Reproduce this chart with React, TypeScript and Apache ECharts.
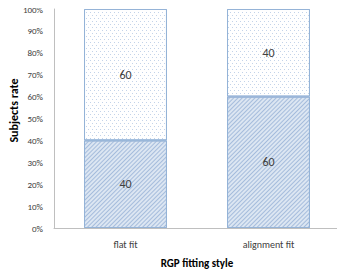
import React, { useEffect, useRef } from "react";
import * as echarts from "echarts";

const categories = ["flat fit", "alignment fit"];
const lowerValues = [40, 60];
const upperValues = [60, 40];
const yTicks = [0, 10, 20, 30, 40, 50, 60, 70, 80, 90, 100];

export default function App() {
  const ref = useRef<HTMLDivElement>(null);
  useEffect(() => {
    const chart = echarts.init(ref.current!, null, { renderer: "svg" });
    const font = "Calibri, 'Liberation Sans', 'Open Sans', sans-serif";
    chart.setOption({
      animation: false,
      grid: { left: 54, right: 5, top: 9, bottom: 41, outerBoundsMode: "none", containLabel: false },
      xAxis: {
        type: "category",
        data: categories,
        axisLine: { lineStyle: { color: "#bfbfbf" } },
        axisTick: { show: false },
        axisLabel: { color: "#404040", fontSize: 10, margin: 11, fontFamily: font },
        name: "RGP fitting style",
        nameLocation: "middle",
        nameGap: 30,
        nameMoveOverlap: false,
        nameTextStyle: { fontWeight: "bold", fontSize: 11, color: "#000", fontFamily: font },
      },
      yAxis: {
        type: "value",
        min: yTicks[0],
        max: yTicks[yTicks.length - 1],
        interval: 10,
        splitLine: { show: false },
        axisLine: { show: true, lineStyle: { color: "#bfbfbf" } },
        axisTick: { show: false },
        axisLabel: { color: "#404040", fontSize: 9, margin: 11, formatter: "{value}%", fontFamily: font },
        name: "Subjects rate",
        nameLocation: "middle",
        nameGap: 34,
        nameMoveOverlap: false,
        nameTextStyle: { fontWeight: "bold", fontSize: 12, color: "#000", fontFamily: font, padding: [0, 0, 0, 16] },
      },
      series: [
        {
          type: "bar",
          stack: "s",
          barWidth: "58%",
          data: lowerValues,
          itemStyle: {
            color: "#dce6f2",
            borderColor: "#95b3d7",
            borderWidth: 1,
            decal: {
              symbol: "rect",
              color: "#a5bcdc",
              dashArrayX: [1, 0],
              dashArrayY: [1, 2],
              rotation: -Math.PI / 4,
            },
          },
          label: { show: true, position: "inside", color: "#404040", fontSize: 12, fontFamily: font },
        },
        {
          type: "bar",
          stack: "s",
          data: upperValues,
          itemStyle: {
            color: "#ffffff",
            borderColor: "#95b3d7",
            borderWidth: 1,
            decal: {
              symbol: "rect",
              symbolSize: 1,
              color: "#c3d3e9",
              dashArrayX: [[1, 3], [0, 2, 1, 1]],
              dashArrayY: [1, 2],
            },
          },
          label: { show: true, position: "inside", color: "#404040", fontSize: 12, fontFamily: font },
        },
      ],
    });
    return () => chart.dispose();
  }, []);
  return <div ref={ref} style={{ width: 345, height: 269, marginLeft: -8, marginTop: -8 }} />;
}
